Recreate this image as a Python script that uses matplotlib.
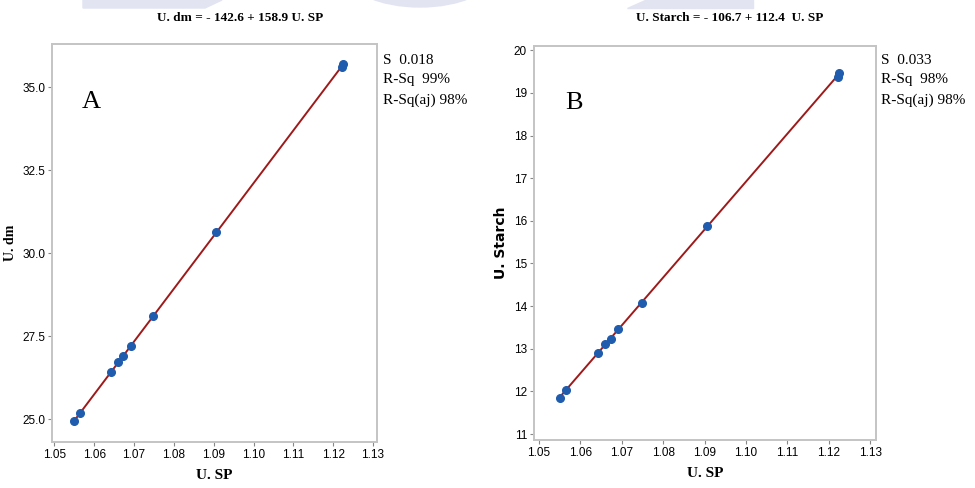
import matplotlib
matplotlib.use("Agg")
import matplotlib.pyplot as plt
from matplotlib.patches import Polygon, Ellipse
import numpy as np

# U.SP values shared by both panels
u_sp = [1.0550, 1.0565, 1.0642, 1.0660, 1.0673, 1.0692, 1.0748, 1.0905, 1.1222, 1.1225]
u_dm = [24.93, 25.19, 26.41, 26.72, 26.91, 27.20, 28.10, 30.63, 35.60, 35.70]
u_starch = [11.84, 12.03, 12.90, 13.11, 13.24, 13.47, 14.08, 15.87, 19.38, 19.47]

x_ticks = [1.05, 1.06, 1.07, 1.08, 1.09, 1.10, 1.11, 1.12, 1.13]
dm_ticks = [25.0, 27.5, 30.0, 32.5, 35.0]
starch_ticks = [11, 12, 13, 14, 15, 16, 17, 18, 19, 20]

title_a = "U. dm = - 142.6 + 158.9 U. SP"
title_b = "U. Starch = - 106.7 + 112.4  U. SP"
stats_a = ["S  0.018", "R-Sq  99%", "R-Sq(aj) 98%"]
stats_b = ["S  0.033", "R-Sq  98%", "R-Sq(aj) 98%"]

tick_font = 'Liberation Sans'
serif = 'Liberation Serif'
line_col = '#9e1a1a'
dot_col = '#1f5cad'
spine_col = '#c4c4c4'

W, H = 975, 488
fig = plt.figure(figsize=(9.75, 4.88), dpi=100)

# faint watermark band at the top
band = '#e2e5f1'
for pts in ([(83, 0), (222, 0), (205, 8), (83, 8)],
            [(645, 0), (753, 0), (753, 8), (627, 8)]):
    fig.patches.append(Polygon([(x / W, 1 - y / H) for x, y in pts], closed=True,
                               transform=fig.transFigure, color=band, zorder=0))
fig.patches.append(Ellipse((420 / W, 1 + 28 / H), 150 / W, 70 / H,
                           transform=fig.transFigure, color=band, zorder=0))


def panel(rect, y, yticks, ylim, xlim, ylabel, yfmt, ylab_font, ylab_x, letter):
    ax = fig.add_axes(rect)
    k, b = np.polyfit(u_sp, y, 1)
    xs = np.array([min(u_sp), max(u_sp)])
    ax.plot(xs, k * xs + b, color=line_col, lw=1.4, zorder=2)
    ax.plot(u_sp, y, 'o', color=dot_col, ms=5.5, zorder=3)
    ax.set_xlim(xlim)
    ax.set_ylim(ylim)
    ax.set_xticks(x_ticks)
    ax.set_xticklabels(["%.2f" % v for v in x_ticks], family=tick_font, fontsize=8.5)
    ax.set_yticks(yticks)
    ax.set_yticklabels([yfmt % v for v in yticks], family=tick_font, fontsize=8.5)
    for s in ax.spines.values():
        s.set_color(spine_col)
        s.set_linewidth(1.4)
    ax.tick_params(color='#888888', length=3, width=0.8, pad=2)
    ax.set_xlabel("U. SP", family=serif, fontweight='bold', fontsize=11, labelpad=6)
    ax.set_ylabel(ylabel, fontweight='bold', fontsize=10, **ylab_font)
    ax.yaxis.set_label_coords(ylab_x, 0.5)
    ax.text(0.09, 0.84, letter, transform=ax.transAxes, family=serif, fontsize=19)
    return ax


ax_a = panel([52 / W, 46 / H, 325 / W, 398 / H], u_dm, dm_ticks, (24.31, 36.3),
             (1.0494, 1.131), "U. dm", "%.1f", {'family': serif}, -0.108, "A")
ax_b = panel([534 / W, 48 / H, 342 / W, 394 / H], u_starch, starch_ticks, (10.86, 20.1),
             (1.0488, 1.1314), "U. Starch", "%d", {'family': 'DejaVu Sans'}, -0.076, "B")

fig.text(240 / W, 1 - 18 / H, title_a, family=serif, fontweight='bold', fontsize=9.5,
         ha='center', va='center')
fig.text(730 / W, 1 - 18 / H, title_b, family=serif, fontweight='bold', fontsize=9.5,
         ha='center', va='center')

for x0, lines in ((383, stats_a), (881, stats_b)):
    for i, t in enumerate(lines):
        fig.text(x0 / W, 1 - (60 + 20 * i) / H, t, family=serif, fontsize=11,
                 ha='left', va='center')

fig.savefig("out.png", dpi=100)
